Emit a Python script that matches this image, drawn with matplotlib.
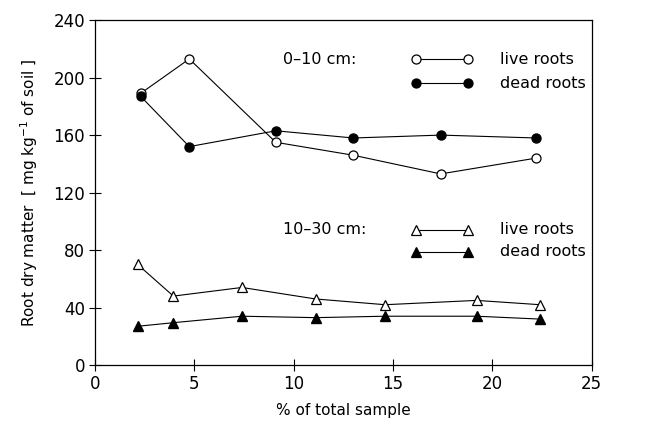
import matplotlib
matplotlib.use("Agg")
import matplotlib.pyplot as plt

# Data
x_live_top = [2.3, 4.75, 9.1, 13.0, 17.4, 22.2]
y_live_top = [189, 213, 155, 146, 133, 144]
x_dead_top = [2.3, 4.75, 9.1, 13.0, 17.4, 22.2]
y_dead_top = [187, 152, 163, 158, 160, 158]

x_live_sub = [2.15, 3.95, 7.4, 11.1, 14.6, 19.2, 22.4]
y_live_sub = [70, 48, 54, 46, 42, 45, 42]
x_dead_sub = [2.15, 3.95, 7.4, 11.1, 14.6, 19.2, 22.4]
y_dead_sub = [27, 29.5, 34, 33, 34, 34, 32]

xticks = [0, 5, 10, 15, 20, 25]
yticks = [0, 40, 80, 120, 160, 200, 240]

plt.rcParams['font.family'] = ['DejaVu Sans']

fig = plt.figure(figsize=(6.59, 4.28), dpi=100)
ax = fig.add_axes([0.144, 0.147, 0.754, 0.806])

lw = 0.8
ms_c = 6.5
ms_t = 7
ax.plot(x_live_top, y_live_top, '-o', color='black', lw=lw, mfc='white', mec='black', ms=ms_c, mew=0.9)
ax.plot(x_dead_top, y_dead_top, '-o', color='black', lw=lw, mfc='black', mec='black', ms=ms_c)
ax.plot(x_live_sub, y_live_sub, '-^', color='black', lw=lw, mfc='white', mec='black', ms=ms_t, mew=0.9)
ax.plot(x_dead_sub, y_dead_sub, '-^', color='black', lw=lw, mfc='black', mec='black', ms=ms_t)

ax.set_xlim(0, 25)
ax.set_ylim(0, 240)
ax.set_xticks(xticks)
ax.set_yticks(yticks)
ax.tick_params(direction='inout', length=8, width=0.8, labelsize=12, pad=3)
for s in ax.spines.values():
    s.set_linewidth(0.9)

ax.set_xlabel('% of total sample', fontsize=11, labelpad=7)
ax.set_ylabel(r'Root dry matter  [ mg kg$^{-1}$ of soil ]', fontsize=11, labelpad=10)

# Custom legend
tr = ax.transAxes
fs = 11.5
def row(y, mk, fill, label):
    ax.plot([0.647, 0.75], [y, y], '-', color='black', lw=lw, transform=tr, clip_on=False)
    ax.plot([0.647, 0.75], [y, y], mk, color='black', mfc=fill, mec='black',
            ms=ms_c if mk == 'o' else ms_t, mew=0.9, transform=tr, clip_on=False, lw=0)
    ax.text(0.815, y, label, transform=tr, fontsize=fs, va='center', ha='left')

ax.text(0.378, 0.886, '0–10 cm:', transform=tr, fontsize=fs, va='center', ha='left')
row(0.886, 'o', 'white', 'live roots')
row(0.817, 'o', 'black', 'dead roots')
ax.text(0.378, 0.393, '10–30 cm:', transform=tr, fontsize=fs, va='center', ha='left')
row(0.393, '^', 'white', 'live roots')
row(0.328, '^', 'black', 'dead roots')

fig.savefig('out.png', dpi=100)
